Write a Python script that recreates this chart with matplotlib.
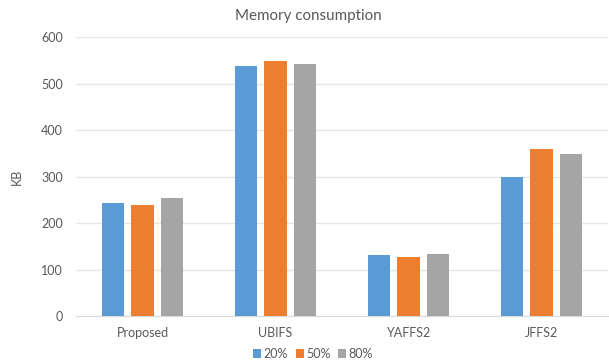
import numpy as np
import matplotlib.pyplot as plt

plt.rcParams['font.family'] = ['Lato', 'DejaVu Sans']

# memory use per file system at each fill level
systems = ['Proposed', 'UBIFS', 'YAFFS2', 'JFFS2']
levels = ['20%', '50%', '80%']
mem_20 = [243, 538, 132, 300]
mem_50 = [239, 550, 127, 360]
mem_80 = [254, 543, 134, 348]
colors = ['#5B9BD5', '#ED7D31', '#A5A5A5']
text_color = '#595959'

fig = plt.figure(figsize=(6.09, 3.63), dpi=100)
ax = fig.add_axes([76 / 609, 1 - 316 / 363, 532 / 609, (316 - 37.3) / 363])

x = np.arange(len(systems))
width = 0.17
step = 0.222
for i, (vals, lab, c) in enumerate(zip([mem_20, mem_50, mem_80], levels, colors)):
    ax.bar(x + (i - 1) * step, vals, width, color=c, label=lab, zorder=3)

ax.set_xlim(-0.5, len(systems) - 0.5)
ax.set_ylim(0, 600)
ax.set_yticks(range(0, 601, 100))
ax.set_xticks(x)
ax.set_xticklabels(systems)
ax.grid(axis='y', color='#E6E6E6', linewidth=1, zorder=0)
for s in ['top', 'right', 'left']:
    ax.spines[s].set_visible(False)
ax.spines['bottom'].set_color('#D9D9D9')
ax.tick_params(length=0, colors=text_color, labelsize=9)
ax.tick_params(axis='y', pad=9.5)
ax.tick_params(axis='x', pad=8)

fig.text(0.506, 1 - 16 / 363, 'Memory consumption', ha='center', va='center',
         fontsize=10.9, color=text_color)
fig.text(17 / 609, 1 - 177 / 363, 'KB', ha='center', va='center',
         rotation=90, fontsize=9, color=text_color)

fig.legend(loc='center', bbox_to_anchor=(313 / 609, 1 - 354 / 363), ncol=3,
           frameon=False, fontsize=9, handlelength=0.65, handleheight=0.65,
           handletextpad=0.2, columnspacing=0.6, labelcolor=text_color,
           borderaxespad=0, borderpad=0)

fig.savefig('out.png', dpi=100)
